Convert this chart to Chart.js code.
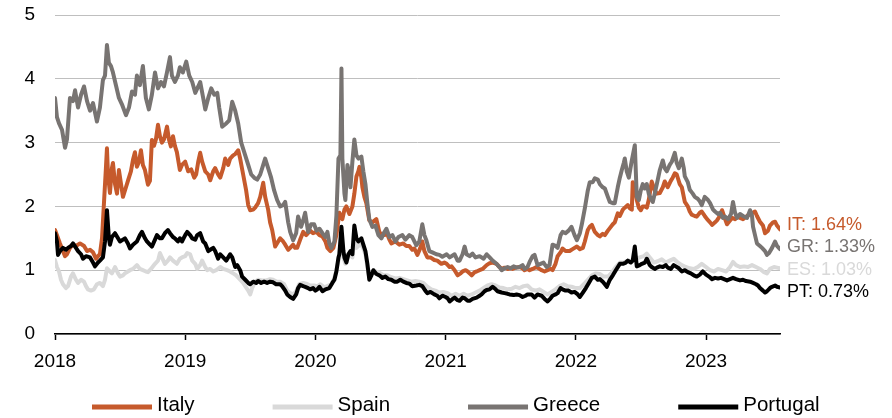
<!DOCTYPE html>
<html>
<head>
<meta charset="utf-8">
<script src="https://cdn.jsdelivr.net/npm/chart.js@4"></script>
<style>
  html, body { margin: 0; padding: 0; background: #fff; }
  #wrap { width: 892px; height: 418px; }
</style>
</head>
<body>
<div id="wrap"><canvas id="c" width="892" height="418"></canvas></div>
<script>
// 10-year sovereign spreads vs. Bund, percentage points; x = decimal year
const seriesNames = ['Italy', 'Spain', 'Greece', 'Portugal'];
const codes = ['IT', 'ES', 'GR', 'PT'];
const yearTicks = [2018, 2019, 2020, 2021, 2022, 2023];

const italy = [
  [2018.000,1.63],[2018.015,1.55],[2018.038,1.42],[2018.061,1.30],[2018.077,1.22],[2018.092,1.25],[2018.115,1.35],[2018.138,1.40],
  [2018.161,1.38],[2018.192,1.42],[2018.223,1.38],[2018.246,1.30],[2018.269,1.32],[2018.292,1.28],[2018.315,1.18],[2018.330,1.22],
  [2018.345,1.25],[2018.361,1.50],[2018.376,2.05],[2018.391,2.60],[2018.399,2.91],[2018.407,2.50],[2018.422,2.21],[2018.437,2.60],
  [2018.445,2.68],[2018.461,2.35],[2018.476,2.20],[2018.491,2.57],[2018.507,2.35],[2018.522,2.15],[2018.545,2.30],[2018.560,2.40],
  [2018.583,2.55],[2018.599,2.73],[2018.614,2.85],[2018.629,2.62],[2018.645,2.70],[2018.660,2.88],[2018.675,2.65],[2018.691,2.57],
  [2018.714,2.34],[2018.729,2.40],[2018.744,3.04],[2018.760,2.95],[2018.775,3.05],[2018.791,3.28],[2018.806,3.10],[2018.821,3.00],
  [2018.837,3.05],[2018.860,3.25],[2018.875,3.05],[2018.890,2.94],[2018.906,3.10],[2018.921,2.95],[2018.936,2.85],[2018.959,2.57],
  [2018.975,2.65],[2019.000,2.70],[2019.023,2.55],[2019.046,2.58],[2019.069,2.45],[2019.084,2.50],[2019.100,2.70],[2019.115,2.84],
  [2019.130,2.70],[2019.154,2.55],[2019.177,2.50],[2019.192,2.41],[2019.215,2.55],[2019.230,2.60],[2019.253,2.50],[2019.269,2.45],
  [2019.292,2.60],[2019.307,2.75],[2019.330,2.65],[2019.345,2.75],[2019.368,2.80],[2019.384,2.82],[2019.407,2.88],[2019.422,2.75],
  [2019.445,2.50],[2019.468,2.25],[2019.484,2.02],[2019.499,1.94],[2019.522,1.95],[2019.537,1.98],[2019.560,2.05],[2019.576,2.15],
  [2019.599,2.37],[2019.614,2.15],[2019.637,1.95],[2019.652,1.75],[2019.668,1.63],[2019.691,1.37],[2019.714,1.45],[2019.729,1.50],
  [2019.752,1.45],[2019.768,1.40],[2019.791,1.32],[2019.806,1.35],[2019.829,1.40],[2019.844,1.35],[2019.860,1.35],[2019.883,1.48],
  [2019.906,1.60],[2019.929,1.55],[2019.959,1.62],[2019.982,1.58],[2020.008,1.60],[2020.031,1.55],[2020.054,1.53],[2020.077,1.45],
  [2020.092,1.35],[2020.115,1.30],[2020.138,1.35],[2020.161,1.55],[2020.184,1.90],[2020.207,1.80],[2020.223,1.95],[2020.238,2.00],
  [2020.261,1.88],[2020.284,2.00],[2020.299,2.20],[2020.315,2.47],[2020.330,2.55],[2020.338,2.62],[2020.353,2.45],[2020.361,2.30],
  [2020.376,2.15],[2020.391,2.05],[2020.414,1.78],[2020.437,1.75],[2020.468,1.80],[2020.491,1.60],[2020.507,1.55],[2020.530,1.55],
  [2020.545,1.60],[2020.568,1.48],[2020.583,1.42],[2020.614,1.45],[2020.645,1.40],[2020.675,1.42],[2020.698,1.38],[2020.721,1.38],
  [2020.744,1.32],[2020.760,1.34],[2020.783,1.24],[2020.806,1.35],[2020.821,1.45],[2020.837,1.30],[2020.860,1.20],[2020.883,1.20],
  [2020.913,1.16],[2020.936,1.15],[2020.967,1.10],[2020.990,1.12],[2021.008,1.10],[2021.031,1.05],[2021.046,1.06],[2021.069,1.00],
  [2021.092,0.92],[2021.115,0.95],[2021.130,0.98],[2021.154,1.00],[2021.169,0.98],[2021.184,0.95],[2021.200,0.92],[2021.223,0.97],
  [2021.238,0.98],[2021.261,1.00],[2021.284,1.02],[2021.315,1.08],[2021.338,1.11],[2021.361,1.12],[2021.391,1.10],[2021.414,1.05],
  [2021.430,1.02],[2021.453,1.04],[2021.476,1.02],[2021.499,1.03],[2021.514,1.02],[2021.537,1.04],[2021.568,1.05],[2021.591,1.03],
  [2021.606,1.00],[2021.629,1.02],[2021.645,1.00],[2021.668,1.02],[2021.698,1.05],[2021.721,1.02],[2021.737,1.00],[2021.760,0.98],
  [2021.783,1.00],[2021.806,1.02],[2021.821,1.00],[2021.844,1.10],[2021.860,1.22],[2021.883,1.28],[2021.898,1.34],[2021.921,1.30],
  [2021.952,1.30],[2021.975,1.33],[2022.008,1.37],[2022.031,1.33],[2022.054,1.35],[2022.069,1.45],[2022.092,1.63],[2022.107,1.68],
  [2022.123,1.71],[2022.146,1.60],[2022.169,1.55],[2022.184,1.53],[2022.207,1.57],[2022.223,1.55],[2022.246,1.62],[2022.261,1.66],
  [2022.284,1.72],[2022.299,1.75],[2022.322,1.89],[2022.338,1.85],[2022.361,1.95],[2022.376,1.98],[2022.399,2.02],[2022.414,1.97],
  [2022.430,1.95],[2022.437,2.38],[2022.453,2.28],[2022.468,2.10],[2022.484,1.98],[2022.499,1.94],[2022.514,2.00],[2022.530,2.00],
  [2022.545,1.98],[2022.560,2.10],[2022.583,2.39],[2022.606,2.25],[2022.622,2.20],[2022.645,2.21],[2022.668,2.30],[2022.683,2.39],
  [2022.706,2.30],[2022.729,2.40],[2022.744,2.45],[2022.760,2.52],[2022.775,2.50],[2022.798,2.35],[2022.814,2.30],[2022.829,2.15],
  [2022.837,2.07],[2022.860,2.00],[2022.875,1.92],[2022.890,1.87],[2022.913,1.85],[2022.929,1.84],[2022.952,1.90],[2022.967,1.92],
  [2022.990,1.85],[2023.008,1.80],[2023.031,1.75],[2023.046,1.71],[2023.069,1.75],[2023.084,1.78],[2023.107,1.85],[2023.123,1.94],
  [2023.146,1.80],[2023.161,1.72],[2023.184,1.78],[2023.200,1.82],[2023.223,1.80],[2023.238,1.84],[2023.261,1.82],[2023.284,1.80],
  [2023.315,1.85],[2023.338,1.88],[2023.361,1.90],[2023.376,1.92],[2023.391,1.85],[2023.414,1.76],[2023.437,1.70],[2023.453,1.58],
  [2023.476,1.62],[2023.491,1.70],[2023.514,1.75],[2023.530,1.76],[2023.545,1.70],[2023.568,1.64]
];

const spain = [
  [2018.000,1.16],[2018.015,1.05],[2018.031,0.98],[2018.046,0.85],[2018.061,0.78],[2018.084,0.72],[2018.100,0.75],[2018.123,0.90],
  [2018.138,0.95],[2018.161,0.85],[2018.177,0.80],[2018.200,0.85],[2018.223,0.82],[2018.238,0.75],[2018.253,0.70],[2018.276,0.68],
  [2018.299,0.70],[2018.322,0.78],[2018.345,0.80],[2018.368,0.75],[2018.384,0.85],[2018.399,1.03],[2018.422,0.98],[2018.437,0.95],
  [2018.461,1.05],[2018.484,0.95],[2018.499,0.90],[2018.522,0.92],[2018.537,0.95],[2018.560,0.98],[2018.576,1.00],[2018.599,1.02],
  [2018.629,1.08],[2018.652,1.02],[2018.675,1.00],[2018.698,0.98],[2018.714,0.97],[2018.737,1.02],[2018.768,1.10],[2018.791,1.15],
  [2018.806,1.27],[2018.821,1.20],[2018.844,1.10],[2018.867,1.15],[2018.883,1.20],[2018.906,1.15],[2018.936,1.10],[2018.959,1.18],
  [2018.975,1.20],[2019.000,1.22],[2019.015,1.27],[2019.038,1.25],[2019.054,1.15],[2019.077,1.10],[2019.092,1.02],[2019.115,1.08],
  [2019.130,1.15],[2019.154,1.05],[2019.169,1.00],[2019.192,1.02],[2019.215,0.98],[2019.238,1.00],[2019.269,1.05],[2019.292,1.02],
  [2019.322,1.00],[2019.345,0.98],[2019.368,0.95],[2019.391,0.92],[2019.422,0.85],[2019.445,0.80],[2019.461,0.75],[2019.484,0.68],
  [2019.499,0.62],[2019.514,0.72],[2019.537,0.82],[2019.560,0.85],[2019.591,0.84],[2019.622,0.84],[2019.652,0.86],[2019.675,0.85],
  [2019.706,0.82],[2019.729,0.82],[2019.760,0.78],[2019.783,0.68],[2019.806,0.64],[2019.829,0.62],[2019.852,0.67],[2019.875,0.78],
  [2019.906,0.80],[2019.929,0.79],[2019.959,0.76],[2019.990,0.76],[2020.015,0.75],[2020.038,0.78],[2020.069,0.73],[2020.100,0.76],
  [2020.123,0.78],[2020.146,0.88],[2020.161,1.00],[2020.177,1.15],[2020.192,1.40],[2020.200,1.55],[2020.215,1.20],[2020.230,1.10],
  [2020.246,1.18],[2020.261,1.25],[2020.284,1.20],[2020.299,1.50],[2020.315,1.35],[2020.338,1.40],[2020.361,1.38],[2020.384,1.25],
  [2020.399,1.05],[2020.414,0.88],[2020.437,0.95],[2020.461,0.98],[2020.491,0.96],[2020.522,0.92],[2020.553,0.92],[2020.583,0.89],
  [2020.614,0.87],[2020.645,0.88],[2020.675,0.86],[2020.706,0.84],[2020.737,0.82],[2020.768,0.83],[2020.798,0.82],[2020.829,0.80],
  [2020.860,0.74],[2020.890,0.70],[2020.921,0.68],[2020.952,0.65],[2020.982,0.66],[2021.015,0.64],[2021.046,0.60],[2021.077,0.63],
  [2021.107,0.60],[2021.138,0.63],[2021.169,0.60],[2021.200,0.62],[2021.230,0.65],[2021.261,0.68],[2021.292,0.72],[2021.322,0.76],
  [2021.353,0.78],[2021.384,0.76],[2021.414,0.73],[2021.445,0.72],[2021.476,0.70],[2021.507,0.71],[2021.537,0.74],[2021.568,0.72],
  [2021.599,0.75],[2021.629,0.76],[2021.660,0.70],[2021.691,0.68],[2021.721,0.70],[2021.752,0.66],[2021.783,0.62],[2021.814,0.66],
  [2021.844,0.70],[2021.875,0.75],[2021.906,0.78],[2021.936,0.75],[2021.967,0.74],[2022.000,0.72],[2022.031,0.72],[2022.061,0.78],
  [2022.092,0.85],[2022.123,0.92],[2022.154,0.95],[2022.184,0.94],[2022.215,0.90],[2022.246,0.90],[2022.276,0.96],[2022.307,1.05],
  [2022.338,1.12],[2022.368,1.12],[2022.399,1.15],[2022.430,1.15],[2022.461,1.18],[2022.491,1.20],[2022.522,1.22],[2022.545,1.26],
  [2022.568,1.20],[2022.599,1.12],[2022.629,1.14],[2022.660,1.17],[2022.691,1.12],[2022.721,1.15],[2022.752,1.18],[2022.783,1.12],
  [2022.814,1.08],[2022.844,1.05],[2022.875,1.03],[2022.906,1.02],[2022.936,1.05],[2022.967,1.10],[2023.000,1.05],[2023.031,1.00],
  [2023.061,0.98],[2023.092,1.02],[2023.123,1.00],[2023.154,0.98],[2023.184,1.05],[2023.207,1.13],[2023.230,1.08],[2023.261,1.05],
  [2023.292,1.06],[2023.322,1.05],[2023.353,1.08],[2023.384,1.05],[2023.414,1.02],[2023.445,0.97],[2023.468,0.95],[2023.491,1.02],
  [2023.522,1.05],[2023.545,1.04],[2023.568,1.03]
];

const greece = [
  [2018.000,3.70],[2018.015,3.40],[2018.031,3.30],[2018.054,3.20],[2018.077,2.92],[2018.092,3.05],[2018.115,3.70],[2018.138,3.65],
  [2018.154,3.82],[2018.177,3.55],[2018.200,3.75],[2018.223,3.88],[2018.246,3.65],[2018.269,3.50],[2018.292,3.62],[2018.322,3.33],
  [2018.345,3.55],[2018.368,3.98],[2018.384,4.05],[2018.399,4.53],[2018.414,4.25],[2018.430,4.20],[2018.445,4.10],[2018.468,3.90],
  [2018.491,3.70],[2018.514,3.60],[2018.545,3.43],[2018.568,3.55],[2018.591,3.80],[2018.614,3.75],[2018.629,4.05],[2018.652,3.90],
  [2018.675,4.20],[2018.698,3.70],[2018.721,3.52],[2018.744,3.75],[2018.768,4.10],[2018.791,3.85],[2018.814,3.95],[2018.837,3.88],
  [2018.860,4.10],[2018.883,4.34],[2018.898,4.05],[2018.921,3.95],[2018.944,4.05],[2018.959,4.18],[2018.982,4.10],[2019.008,4.27],
  [2019.031,4.05],[2019.054,3.95],[2019.077,3.78],[2019.100,3.88],[2019.115,3.95],[2019.138,3.70],[2019.154,3.52],[2019.177,3.70],
  [2019.200,3.85],[2019.223,3.75],[2019.246,3.78],[2019.261,3.55],[2019.284,3.25],[2019.315,3.30],[2019.338,3.35],[2019.361,3.64],
  [2019.384,3.50],[2019.407,3.30],[2019.430,3.00],[2019.461,2.80],[2019.484,2.65],[2019.507,2.50],[2019.530,2.45],[2019.553,2.42],
  [2019.576,2.50],[2019.599,2.65],[2019.614,2.75],[2019.637,2.60],[2019.660,2.45],[2019.683,2.25],[2019.706,2.10],[2019.729,2.00],
  [2019.752,2.02],[2019.768,2.07],[2019.791,1.75],[2019.806,1.60],[2019.829,1.47],[2019.852,1.58],[2019.867,1.84],[2019.890,1.68],
  [2019.906,1.78],[2019.921,1.90],[2019.944,1.60],[2019.967,1.72],[2019.990,1.72],[2020.008,1.62],[2020.031,1.65],[2020.054,1.58],
  [2020.077,1.52],[2020.092,1.60],[2020.107,1.42],[2020.123,1.35],[2020.146,1.45],[2020.161,1.85],[2020.177,2.75],[2020.192,2.80],
  [2020.200,4.16],[2020.207,2.75],[2020.223,2.20],[2020.230,2.10],[2020.246,2.65],[2020.261,2.50],[2020.269,2.30],[2020.284,2.70],
  [2020.299,3.05],[2020.315,2.80],[2020.330,2.75],[2020.353,2.78],[2020.368,2.55],[2020.384,2.35],[2020.399,2.05],[2020.414,1.80],
  [2020.437,1.68],[2020.461,1.70],[2020.484,1.55],[2020.507,1.50],[2020.530,1.60],[2020.545,1.65],[2020.568,1.52],[2020.591,1.55],
  [2020.614,1.45],[2020.637,1.52],[2020.668,1.55],[2020.691,1.48],[2020.721,1.55],[2020.744,1.52],[2020.775,1.39],[2020.798,1.45],
  [2020.821,1.72],[2020.837,1.55],[2020.852,1.47],[2020.875,1.30],[2020.898,1.28],[2020.929,1.25],[2020.952,1.24],[2020.975,1.21],
  [2021.008,1.25],[2021.031,1.20],[2021.069,1.25],[2021.092,1.15],[2021.107,1.15],[2021.130,1.25],[2021.146,1.37],[2021.161,1.25],
  [2021.184,1.22],[2021.207,1.26],[2021.230,1.20],[2021.261,1.22],[2021.292,1.18],[2021.315,1.25],[2021.338,1.20],[2021.361,1.15],
  [2021.391,1.10],[2021.414,1.05],[2021.430,1.00],[2021.453,1.03],[2021.476,1.05],[2021.499,1.03],[2021.522,1.06],[2021.545,1.04],
  [2021.568,1.05],[2021.591,1.08],[2021.606,1.02],[2021.629,1.05],[2021.645,1.13],[2021.668,1.22],[2021.683,1.24],[2021.706,1.08],
  [2021.729,1.10],[2021.752,1.12],[2021.775,1.05],[2021.798,1.08],[2021.821,1.40],[2021.844,1.38],[2021.860,1.35],[2021.883,1.55],
  [2021.898,1.60],[2021.921,1.58],[2021.944,1.62],[2021.967,1.68],[2021.990,1.55],[2022.008,1.47],[2022.031,1.58],[2022.046,1.72],
  [2022.069,1.97],[2022.092,2.25],[2022.107,2.38],[2022.130,2.38],[2022.146,2.44],[2022.169,2.42],[2022.184,2.35],[2022.207,2.30],
  [2022.223,2.28],[2022.246,2.15],[2022.261,2.07],[2022.284,2.05],[2022.299,2.05],[2022.322,2.30],[2022.338,2.45],[2022.353,2.57],
  [2022.368,2.68],[2022.376,2.75],[2022.391,2.55],[2022.407,2.45],[2022.430,2.72],[2022.453,2.96],[2022.468,2.15],[2022.484,2.10],
  [2022.499,2.25],[2022.514,2.35],[2022.530,2.28],[2022.545,2.35],[2022.560,2.20],[2022.576,2.12],[2022.591,2.07],[2022.606,2.20],
  [2022.622,2.35],[2022.645,2.57],[2022.668,2.72],[2022.683,2.60],[2022.698,2.55],[2022.721,2.65],[2022.737,2.70],[2022.760,2.84],
  [2022.775,2.68],[2022.791,2.60],[2022.814,2.75],[2022.829,2.60],[2022.837,2.47],[2022.860,2.38],[2022.875,2.26],[2022.898,2.20],
  [2022.913,2.15],[2022.936,2.12],[2022.952,2.08],[2022.967,2.02],[2022.990,2.15],[2023.015,2.10],[2023.031,2.05],[2023.054,1.95],
  [2023.069,1.92],[2023.092,1.88],[2023.107,1.90],[2023.130,1.82],[2023.146,1.84],[2023.169,1.80],[2023.192,1.88],[2023.207,2.07],
  [2023.223,1.90],[2023.238,1.82],[2023.261,1.88],[2023.284,1.85],[2023.315,1.82],[2023.338,1.94],[2023.353,1.85],[2023.361,1.68],
  [2023.376,1.55],[2023.391,1.42],[2023.414,1.38],[2023.430,1.35],[2023.453,1.30],[2023.468,1.24],[2023.484,1.27],[2023.507,1.35],
  [2023.530,1.45],[2023.545,1.38],[2023.568,1.33]
];

const portugal = [
  [2018.000,1.58],[2018.015,1.45],[2018.023,1.24],[2018.038,1.30],[2018.061,1.35],[2018.084,1.32],[2018.100,1.35],[2018.123,1.38],
  [2018.138,1.42],[2018.161,1.35],[2018.177,1.30],[2018.200,1.25],[2018.215,1.18],[2018.238,1.22],[2018.269,1.20],[2018.292,1.12],
  [2018.307,1.06],[2018.330,1.12],[2018.345,1.15],[2018.368,1.20],[2018.384,1.45],[2018.399,1.94],[2018.414,1.50],[2018.422,1.40],
  [2018.437,1.52],[2018.461,1.58],[2018.484,1.50],[2018.499,1.45],[2018.522,1.48],[2018.537,1.50],[2018.560,1.42],[2018.576,1.34],
  [2018.599,1.40],[2018.629,1.45],[2018.652,1.55],[2018.668,1.60],[2018.691,1.50],[2018.706,1.45],[2018.729,1.40],[2018.744,1.37],
  [2018.768,1.48],[2018.783,1.55],[2018.806,1.50],[2018.821,1.50],[2018.844,1.58],[2018.867,1.63],[2018.883,1.58],[2018.906,1.52],
  [2018.921,1.50],[2018.944,1.45],[2018.959,1.50],[2018.975,1.45],[2019.000,1.55],[2019.015,1.60],[2019.038,1.55],[2019.054,1.50],
  [2019.077,1.48],[2019.092,1.55],[2019.115,1.58],[2019.138,1.45],[2019.154,1.42],[2019.177,1.30],[2019.192,1.32],[2019.215,1.35],
  [2019.230,1.30],[2019.253,1.18],[2019.269,1.25],[2019.292,1.20],[2019.315,1.15],[2019.345,1.25],[2019.361,1.20],[2019.384,1.05],
  [2019.399,1.08],[2019.422,1.00],[2019.437,0.90],[2019.461,0.85],[2019.484,0.80],[2019.499,0.78],[2019.522,0.82],[2019.545,0.80],
  [2019.560,0.83],[2019.583,0.80],[2019.606,0.82],[2019.629,0.80],[2019.652,0.82],[2019.675,0.81],[2019.698,0.78],[2019.729,0.78],
  [2019.744,0.75],[2019.768,0.68],[2019.783,0.62],[2019.806,0.58],[2019.829,0.55],[2019.852,0.62],[2019.867,0.72],[2019.883,0.77],
  [2019.906,0.75],[2019.921,0.74],[2019.944,0.72],[2019.959,0.70],[2019.982,0.72],[2020.000,0.68],[2020.015,0.70],[2020.031,0.74],
  [2020.054,0.67],[2020.077,0.70],[2020.107,0.72],[2020.130,0.80],[2020.146,0.85],[2020.161,0.98],[2020.177,1.20],[2020.184,1.25],
  [2020.200,1.68],[2020.215,1.30],[2020.223,1.20],[2020.238,1.12],[2020.253,1.25],[2020.269,1.30],[2020.284,1.25],[2020.299,1.70],
  [2020.315,1.50],[2020.330,1.45],[2020.353,1.50],[2020.368,1.40],[2020.384,1.30],[2020.399,1.10],[2020.414,0.85],[2020.430,0.92],
  [2020.445,1.00],[2020.468,0.94],[2020.491,0.92],[2020.514,0.88],[2020.537,0.90],[2020.560,0.86],[2020.583,0.85],[2020.606,0.82],
  [2020.629,0.82],[2020.652,0.85],[2020.675,0.82],[2020.698,0.80],[2020.721,0.79],[2020.744,0.75],[2020.775,0.76],[2020.798,0.77],
  [2020.821,0.75],[2020.844,0.68],[2020.860,0.64],[2020.883,0.66],[2020.913,0.62],[2020.936,0.60],[2020.952,0.56],[2020.975,0.60],
  [2021.000,0.58],[2021.015,0.56],[2021.031,0.51],[2021.054,0.55],[2021.069,0.57],[2021.092,0.53],[2021.107,0.52],[2021.130,0.57],
  [2021.146,0.56],[2021.169,0.52],[2021.184,0.52],[2021.207,0.55],[2021.238,0.57],[2021.261,0.60],[2021.276,0.62],[2021.299,0.67],
  [2021.315,0.69],[2021.338,0.70],[2021.361,0.74],[2021.384,0.70],[2021.399,0.67],[2021.430,0.65],[2021.453,0.64],[2021.476,0.63],
  [2021.491,0.62],[2021.522,0.61],[2021.545,0.62],[2021.568,0.61],[2021.591,0.58],[2021.614,0.60],[2021.629,0.62],[2021.660,0.62],
  [2021.683,0.57],[2021.706,0.62],[2021.737,0.60],[2021.760,0.55],[2021.783,0.51],[2021.806,0.56],[2021.821,0.60],[2021.844,0.62],
  [2021.860,0.64],[2021.883,0.72],[2021.898,0.70],[2021.921,0.68],[2021.944,0.68],[2021.967,0.65],[2021.990,0.66],[2022.015,0.62],
  [2022.031,0.58],[2022.054,0.65],[2022.077,0.72],[2022.100,0.80],[2022.123,0.88],[2022.146,0.90],[2022.169,0.85],[2022.184,0.86],
  [2022.207,0.82],[2022.223,0.78],[2022.238,0.74],[2022.261,0.85],[2022.284,0.92],[2022.307,1.00],[2022.338,1.10],[2022.361,1.10],
  [2022.384,1.12],[2022.399,1.15],[2022.422,1.12],[2022.437,1.15],[2022.453,1.37],[2022.468,1.06],[2022.491,1.08],[2022.507,1.10],
  [2022.530,1.12],[2022.545,1.18],[2022.568,1.08],[2022.583,1.05],[2022.606,1.02],[2022.622,1.04],[2022.645,1.06],[2022.668,1.05],
  [2022.691,1.08],[2022.706,1.04],[2022.729,1.02],[2022.752,1.08],[2022.768,1.06],[2022.791,1.03],[2022.814,0.98],[2022.837,1.00],
  [2022.860,0.97],[2022.883,0.95],[2022.906,0.92],[2022.929,0.90],[2022.952,0.93],[2022.975,0.98],[2023.000,0.93],[2023.023,0.90],
  [2023.046,0.86],[2023.069,0.88],[2023.092,0.87],[2023.115,0.88],[2023.138,0.86],[2023.161,0.84],[2023.184,0.86],[2023.207,0.88],
  [2023.230,0.86],[2023.261,0.84],[2023.284,0.85],[2023.307,0.83],[2023.338,0.82],[2023.361,0.80],[2023.384,0.78],[2023.399,0.76],
  [2023.414,0.72],[2023.437,0.68],[2023.453,0.65],[2023.468,0.67],[2023.491,0.72],[2023.507,0.74],[2023.530,0.76],[2023.545,0.74],
  [2023.568,0.73]
];

const seriesData = [italy, spain, greece, portugal];
const seriesColors = ['#C65A2C', '#D9D9D9', '#787472', '#000000'];
// stacking: Portugal drawn on top, Italy at the back
const drawOrder = [4, 3, 2, 1];

const FONT = '"Liberation Sans", Arial, sans-serif';

// latest value of each series, written to the right of the plot
const endLabels = {
  id: 'endLabels',
  afterDatasetsDraw(chart) {
    const { ctx, chartArea, scales } = chart;
    const items = chart.data.datasets.map((ds, i) => {
      const last = ds.data[ds.data.length - 1];
      return {
        text: codes[i] + ': ' + last.y.toFixed(2) + '%',
        color: seriesColors[i],
        y: scales.y.getPixelForValue(last.y)
      };
    }).sort((a, b) => a.y - b.y);
    const gap = 22.3;
    for (let k = 0; k < 60; k++) {
      for (let i = 1; i < items.length; i++) {
        const d = items[i].y - items[i - 1].y;
        if (d < gap) {
          const s = (gap - d) / 2;
          items[i].y += s;
          items[i - 1].y -= s;
        }
      }
    }
    ctx.save();
    ctx.font = '18px ' + FONT;
    ctx.textAlign = 'left';
    ctx.textBaseline = 'middle';
    items.forEach(it => {
      ctx.fillStyle = it.color;
      ctx.fillText(it.text, chartArea.right + 7, it.y);
    });
    ctx.restore();
  }
};

// legend row under the axis: line swatch followed by the series name
const lineLegend = {
  id: 'lineLegend',
  afterDraw(chart) {
    const { ctx } = chart;
    const swatch = 60, textGap = 5, itemGap = 78;
    const y = 407;
    let x = 92;
    ctx.save();
    ctx.font = '20.5px ' + FONT;
    ctx.textAlign = 'left';
    ctx.textBaseline = 'middle';
    chart.data.datasets.forEach(ds => {
      ctx.strokeStyle = ds.borderColor;
      ctx.lineWidth = 5;
      ctx.lineCap = 'butt';
      ctx.beginPath();
      ctx.moveTo(x, y);
      ctx.lineTo(x + swatch, y);
      ctx.stroke();
      ctx.fillStyle = '#000';
      ctx.fillText(ds.label, x + swatch + textGap, y - 1.5);
      x += swatch + textGap + ctx.measureText(ds.label).width + itemGap;
    });
    ctx.restore();
  }
};

new Chart(document.getElementById('c'), {
  type: 'line',
  data: {
    datasets: seriesNames.map((name, i) => ({
      label: name,
      data: seriesData[i].map(([x, y]) => ({ x, y })),
      borderColor: seriesColors[i],
      backgroundColor: seriesColors[i],
      borderWidth: 4,
      pointRadius: 0,
      tension: 0,
      borderJoinStyle: 'round',
      borderCapStyle: 'round',
      order: drawOrder[i]
    }))
  },
  options: {
    responsive: false,
    devicePixelRatio: 1,
    animation: false,
    layout: { padding: { top: 15, right: 112, bottom: 0, left: 0 } },
    plugins: {
      legend: { display: false },
      tooltip: { enabled: false }
    },
    scales: {
      x: {
        type: 'linear',
        min: yearTicks[0],
        max: 2023.568,
        afterBuildTicks: s => { s.ticks = yearTicks.map(v => ({ value: v })); },
        afterFit: s => { s.height = 84; },
        ticks: {
          callback: v => String(v),
          font: { family: FONT, size: 19 },
          color: '#000',
          padding: 10,
          maxRotation: 0,
          autoSkip: false
        },
        grid: {
          drawOnChartArea: false,
          drawTicks: true,
          tickLength: 6,
          tickColor: '#000',
          tickWidth: 1.5
        },
        border: { display: true, color: '#000', width: 1.5 }
      },
      y: {
        min: 0,
        max: 5,
        // the tick padding only separates labels from the plot; no extra room above or below
        afterFit: s => { s.width = 55; s.paddingTop = 0; s.paddingBottom = 0; },
        ticks: {
          stepSize: 1,
          font: { family: FONT, size: 19 },
          color: '#000',
          padding: 20
        },
        grid: { color: '#BFBFBF', lineWidth: 1, drawTicks: false },
        border: { display: false }
      }
    }
  },
  plugins: [endLabels, lineLegend]
});
</script>
</body>
</html>
